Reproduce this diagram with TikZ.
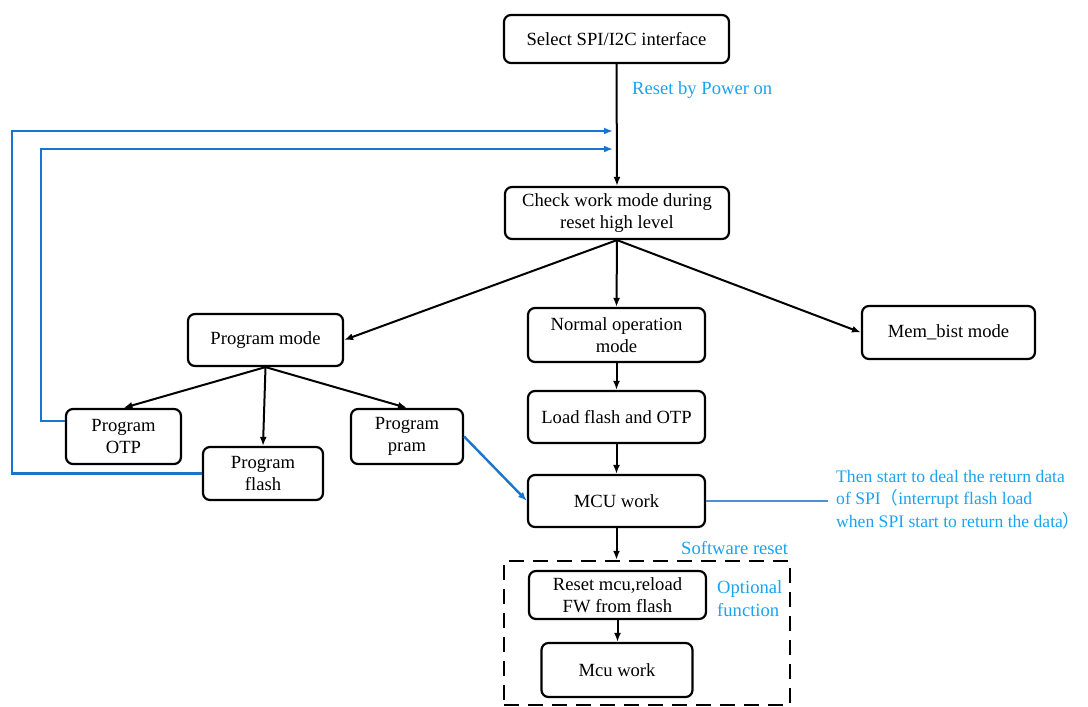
\documentclass[tikz,border=0pt]{standalone}
\usepackage{fontspec}
\setmainfont{Liberation Serif}
\newfontfamily\tnr{Liberation Serif}
\newfontfamily\cjk{Noto Sans CJK SC}
\usetikzlibrary{arrows.meta}
\definecolor{linkblue}{HTML}{1874CD}
\definecolor{noteblue}{HTML}{1AA3F0}
\definecolor{sideblue}{HTML}{4A8FD8}
\tikzset{
  stepbox/.style={draw=black, line width=2.2pt, rounded corners=7pt, fill=white,
    align=center, inner sep=0pt, font=\tnr\fontsize{18.6}{22}\selectfont},
  arr/.style={draw=black, line width=2pt, -{Latex[length=9pt,width=7pt]}},
  fb/.style={draw=linkblue, line width=2.4pt},
  fbarr/.style={fb, -{Latex[length=9pt,width=7pt]}},
  note/.style={text=noteblue, font=\tnr\fontsize{18.6}{22.5}\selectfont, inner sep=0pt, align=left},
}
\begin{document}
\begin{tikzpicture}[x=1pt,y=-1pt]
\useasboundingbox (0,0) rectangle (1088,707);

% boxes
\node[stepbox, minimum width=225, minimum height=48] (sel) at (616.5,39) {Select SPI/I2C interface};
\node[stepbox, minimum width=224, minimum height=52] (chk) at (617,213) {Check work mode during\\reset high level};
\node[stepbox, minimum width=155, minimum height=52] (pm) at (265.5,340) {Program mode};
\node[stepbox, minimum width=177, minimum height=54] (nom) at (616.5,335) {Normal operation\\mode};
\node[stepbox, minimum width=173, minimum height=53] (mem) at (948.5,332.5) {Mem\_bist mode};
\node[stepbox, minimum width=115, minimum height=55] (otp) at (123.5,436.5) {Program\\OTP};
\node[stepbox, minimum width=120, minimum height=53] (fla) at (263,473.5) {Program\\flash};
\node[stepbox, minimum width=112, minimum height=55] (pra) at (407,436.5) {Program\\pram};
\node[stepbox, minimum width=177, minimum height=52] (lod) at (616.5,417) {Load flash and OTP};
\node[stepbox, minimum width=177, minimum height=52] (mcu) at (616.5,501) {MCU work};

% optional software reset block
\node[draw=black, line width=2.4pt, dash pattern=on 15pt off 9pt, minimum width=286, minimum height=144, inner sep=0pt] (opt) at (647,633) {};
\node[stepbox, minimum width=177, minimum height=48] (rst) at (617.5,595) {Reset mcu,reload\\FW from flash};
\node[stepbox, minimum width=151, minimum height=54] (mw) at (617,670) {Mcu work};

% labels
\node[note, anchor=west] (pwr) at (632,90) {Reset by Power on};
\node[note, anchor=west] (swr) at (681,548) {Software reset};
\node[note, anchor=west] (ofn) at (717,598.5) {Optional\\function};
\node[note, anchor=north west, font=\tnr\fontsize{17.6}{22.5}\selectfont] (spi) at (836,470) {Then start to deal the return data\\of SPI{\cjk （}interrupt flash load\\when SPI start to return the data{\cjk ）}};

% main flow
\draw[arr] (sel.south) -- (chk.north);
\draw[arr] (chk.south) -- (pm.east);
\draw[arr] (chk.south) -- (nom.north);
\draw[arr] (chk.south) -- (mem.west);
\draw[arr] (pm.south) -- (otp.north);
\draw[arr] (pm.south) -- (fla.north);
\draw[arr] (pm.south) -- (pra.north);
\draw[arr] (nom.south) -- (lod.north);
\draw[arr] (lod.south) -- (mcu.north);
\draw[arr] (mcu.south) -- (mcu.south |- opt.north);
\draw[arr] (rst.south) -- (rst.south |- mw.north);

% feedback paths back to the mode check
\coordinate (in1) at (613,131);
\coordinate (in2) at (613,149);
\draw[fbarr] (fla.west) -- (12,473.5) -- (12,131) -- (in1);
\draw[fbarr] (otp.west |- 0,421) -- (41,421) -- (41,149) -- (in2);
\draw[fbarr] (pra.east) -- (mcu.west);

% pointer to the note
\coordinate (nt) at (828,501);
\draw[draw=sideblue, line width=1.6pt] (mcu.east) -- (nt);
\end{tikzpicture}
\end{document}
